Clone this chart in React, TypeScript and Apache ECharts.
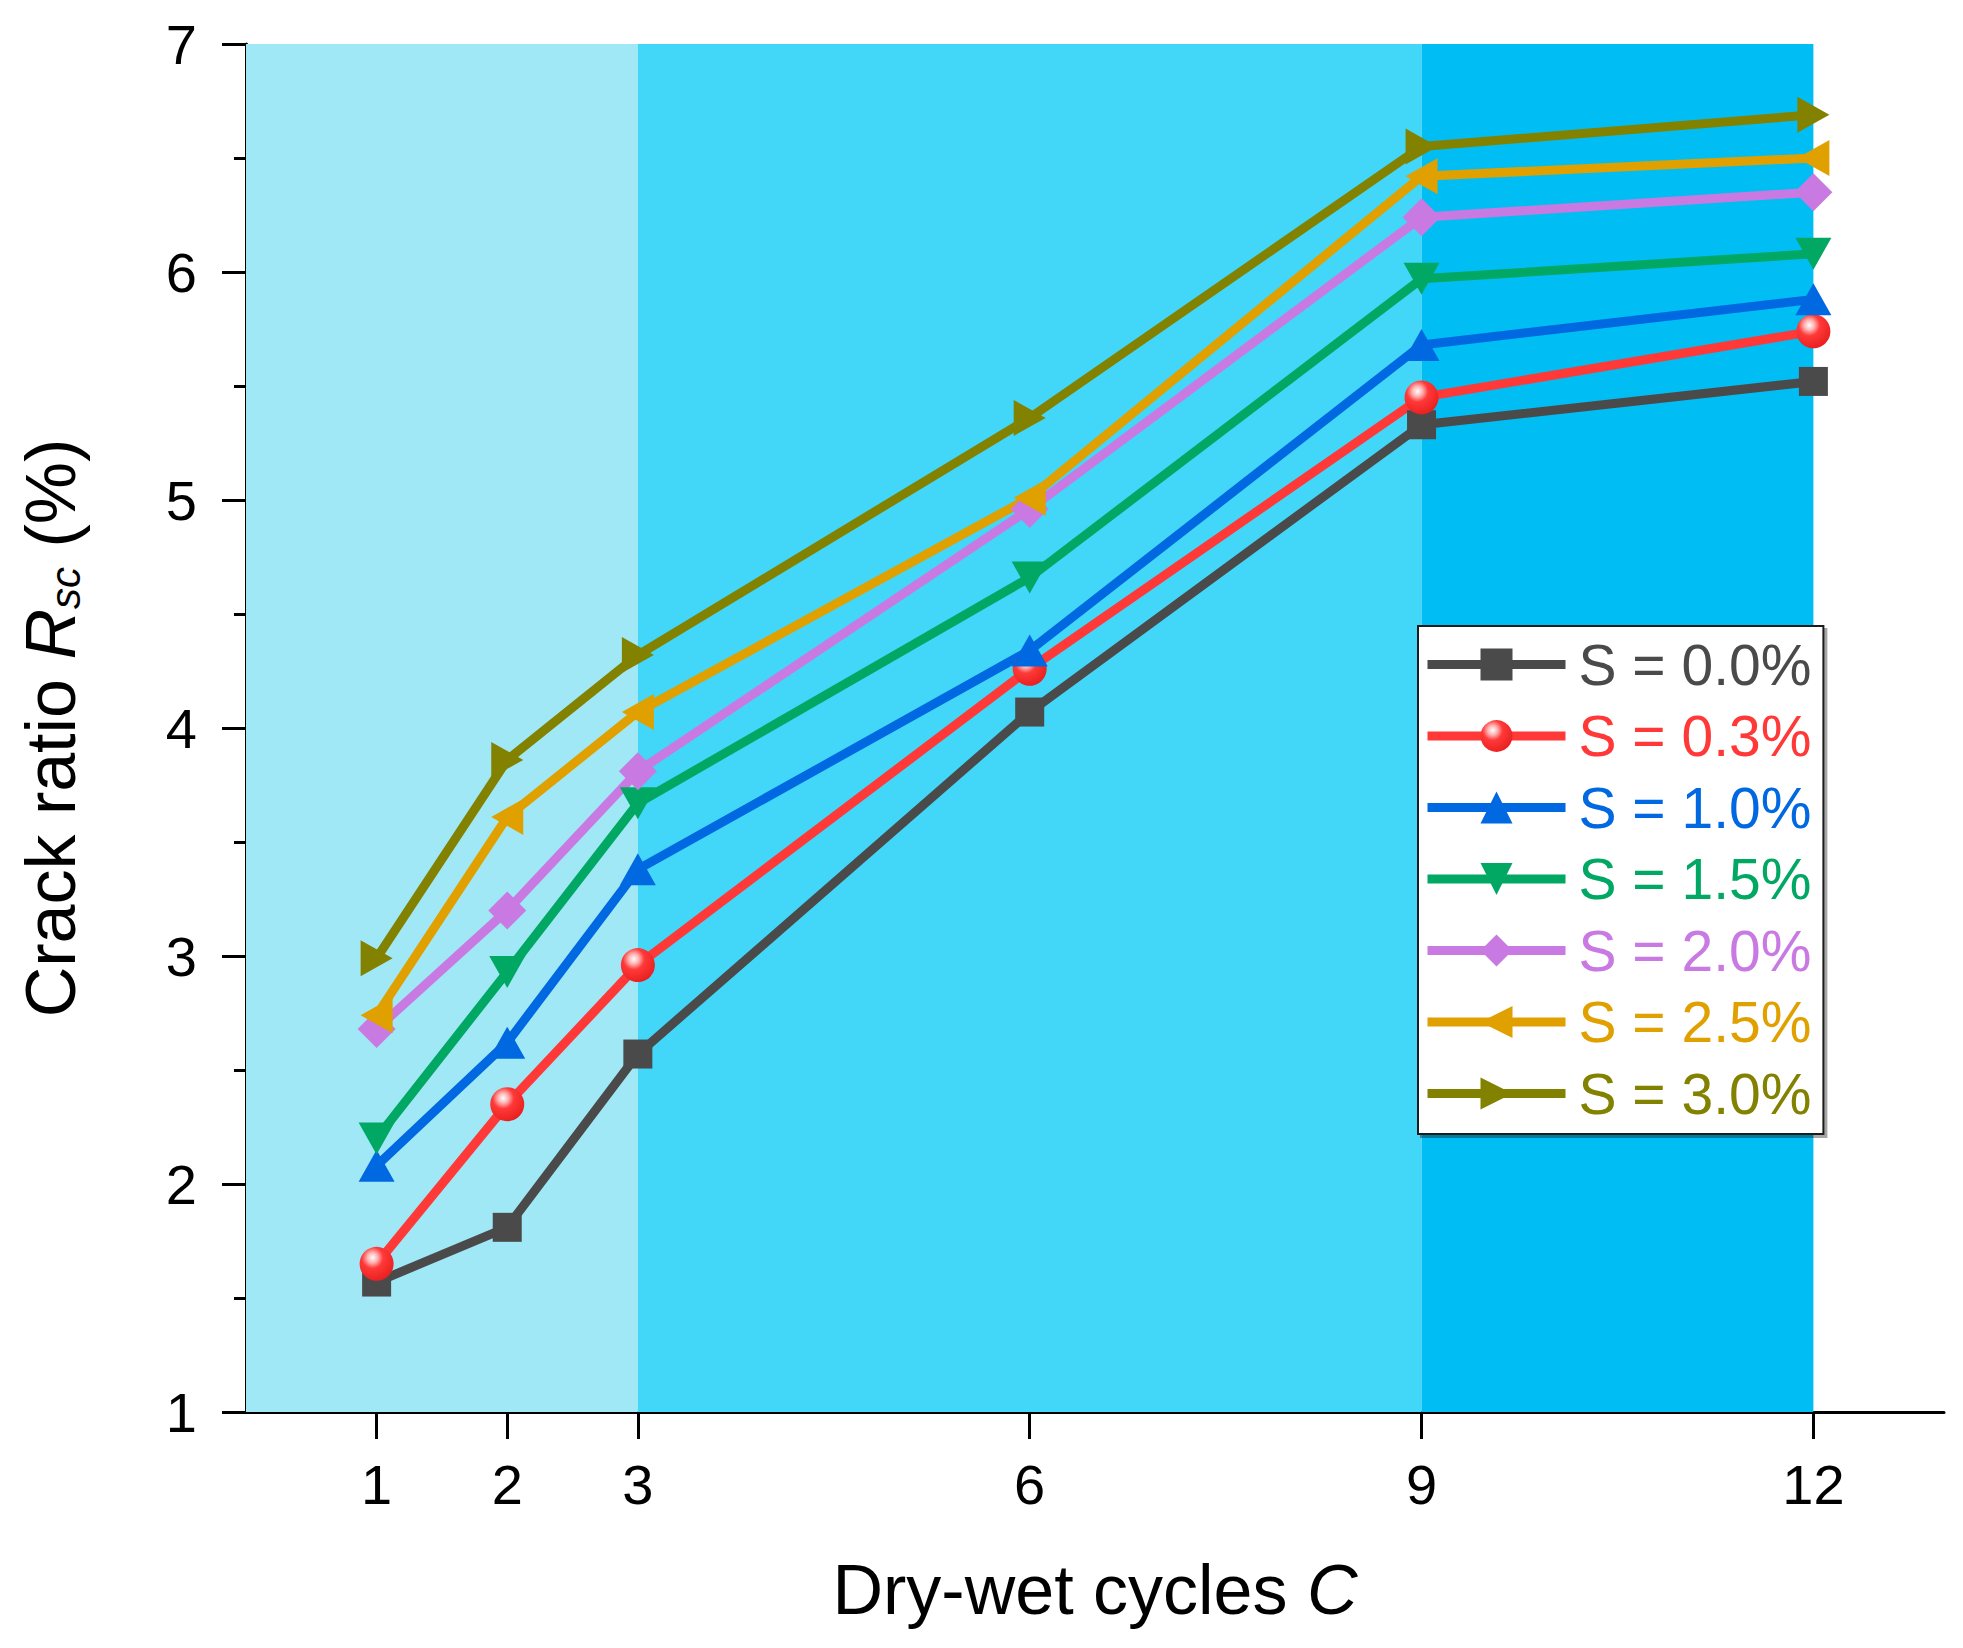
import React, { useEffect, useRef } from 'react';
import * as echarts from 'echarts';

const cycles = [1, 2, 3, 6, 9, 12];
const xTickValues = [1, 2, 3, 6, 9, 12];
const seriesNames = ['S = 0.0%', 'S = 0.3%', 'S = 1.0%', 'S = 1.5%', 'S = 2.0%', 'S = 2.5%', 'S = 3.0%'];
const s00 = [1.57, 1.81, 2.57, 4.07, 5.33, 5.52];
const s03 = [1.65, 2.35, 2.96, 4.26, 5.45, 5.74];
const s10 = [2.08, 2.62, 3.38, 4.34, 5.68, 5.88];
const s15 = [2.2, 2.93, 3.67, 4.66, 5.97, 6.08];
const s20 = [2.68, 3.2, 3.81, 4.96, 6.24, 6.35];
const s25 = [2.74, 3.61, 4.07, 5.01, 6.42, 6.5];
const s30 = [2.99, 3.86, 4.32, 5.36, 6.55, 6.69];
const bandStarts = [0, 3, 9];
const bandEnds = [3, 9, 12];

const FONT = '"Liberation Sans", Arial, sans-serif';

export default function App() {
  const ref = useRef<HTMLDivElement>(null);
  useEffect(() => {
    if (!ref.current) return;
    const chart = echarts.init(ref.current, null, { renderer: 'svg' });
    const allData = [s00, s03, s10, s15, s20, s25, s30];
    const colors = ['#4a4a4a', '#ff3838', '#0068e0', '#00a864', '#c97ae2', '#e0a000', '#828200'];
    const bandColors = ['#a0e8f6', '#42d6f8', '#00bef3'];
    const redGloss = new echarts.graphic.RadialGradient(0.38, 0.32, 0.7, [
      { offset: 0, color: '#ffffff' },
      { offset: 0.22, color: '#ffb0b0' },
      { offset: 0.45, color: '#ff3838' },
      { offset: 1, color: '#e82020' },
    ]);
    const symbols: any[] = [
      { symbol: 'rect', size: 29, rotate: 0 },
      { symbol: 'circle', size: 34, rotate: 0 },
      { symbol: 'triangle', size: [36, 32], rotate: 0 },
      { symbol: 'triangle', size: [36, 32], rotate: 180 },
      { symbol: 'diamond', size: 38, rotate: 0 },
      { symbol: 'triangle', size: [36, 32], rotate: 90 },
      { symbol: 'triangle', size: [36, 32], rotate: -90 },
    ];
    const lineSeries = seriesNames.map((name, i) => ({
      type: 'line',
      name,
      z: 3,
      data: cycles.map((c, j) => [c, allData[i][j]]),
      symbol: symbols[i].symbol,
      symbolSize: symbols[i].size,
      symbolRotate: symbols[i].rotate,
      showAllSymbol: true,
      lineStyle: { color: colors[i], width: 9 },
      itemStyle: { color: i === 1 ? redGloss : colors[i], borderWidth: 0 },
      clip: false,
    }));
    const option: any = {
      animation: false,
      backgroundColor: '#ffffff',
      grid: { left: 245, right: 19, top: 44, bottom: 236 },
      legend: {
        orient: 'vertical',
        left: 1418,
        top: 626,
        data: seriesNames.map((n, i) => ({ name: n, textStyle: { color: colors[i] } })),
        itemWidth: 138,
        itemHeight: 40,
        itemGap: 14.5,
        padding: [10, 12, 12, 5],
        backgroundColor: '#ffffff',
        borderColor: '#1a1a1a',
        borderWidth: 2,
        borderRadius: 0,
        shadowColor: 'rgba(0,0,0,0.35)',
        shadowOffsetX: 3,
        shadowOffsetY: 3,
        shadowBlur: 0,
        selectedMode: false,
        lineStyle: { width: 9 },
        textStyle: { fontSize: 57, fontFamily: FONT, lineHeight: 57, padding: [0, 0, 0, 8] },
      },
      xAxis: {
        type: 'value',
        min: 0,
        max: 13,
        name: '{t|Dry-wet cycles }{i|C}',
        nameLocation: 'middle',
        nameGap: 143,
        nameTextStyle: {
          fontFamily: FONT,
          color: '#000',
          rich: {
            t: { fontSize: 70, fontFamily: FONT, color: '#000' },
            i: { fontSize: 70, fontFamily: FONT, color: '#000', fontStyle: 'italic' },
          },
        },
        axisLine: { show: true, onZero: false, lineStyle: { color: '#000', width: 3 } },
        axisTick: { show: true, inside: false, length: 27, customValues: xTickValues, lineStyle: { color: '#000', width: 3 } },
        axisLabel: { customValues: xTickValues, fontSize: 56, fontFamily: FONT, color: '#000', margin: 44 },
        splitLine: { show: false },
      },
      yAxis: {
        type: 'value',
        min: 1,
        max: 7,
        interval: 1,
        name: '{t|Crack ratio }{i|R}{s|sc}{t| (%)}',
        nameLocation: 'middle',
        nameRotate: 90,
        nameGap: 160,
        nameTextStyle: {
          fontFamily: FONT,
          color: '#000',
          rich: {
            t: { fontSize: 70, lineHeight: 70, fontFamily: FONT, color: '#000', verticalAlign: 'top' },
            i: { fontSize: 70, lineHeight: 70, fontFamily: FONT, color: '#000', fontStyle: 'italic', verticalAlign: 'top' },
            s: { fontSize: 42, lineHeight: 42, fontFamily: FONT, color: '#000', fontStyle: 'italic', verticalAlign: 'bottom', padding: [36, 0, 0, 0] },
          },
        },
        axisLine: { show: true, lineStyle: { color: '#000', width: 3 } },
        axisTick: { show: true, inside: false, length: 24, lineStyle: { color: '#000', width: 3 } },
        minorTick: { show: true, splitNumber: 2, length: 12, lineStyle: { color: '#000', width: 3 } },
        axisLabel: { fontSize: 56, fontFamily: FONT, color: '#000', margin: 49 },
        splitLine: { show: false },
      },
      series: [
        {
          type: 'line',
          name: 'bands',
          data: [],
          z: 1,
          silent: true,
          markArea: {
            silent: true,
            data: bandStarts.map((s, i) => [
              { xAxis: s, itemStyle: { color: bandColors[i], opacity: 1 } },
              { xAxis: bandEnds[i] },
            ]),
          },
        },
        ...lineSeries,
      ],
    };
    chart.setOption(option);
    return () => chart.dispose();
  }, []);
  return <div ref={ref} style={{ position: 'fixed', left: 0, top: 0, width: 1963, height: 1648 }} />;
}
